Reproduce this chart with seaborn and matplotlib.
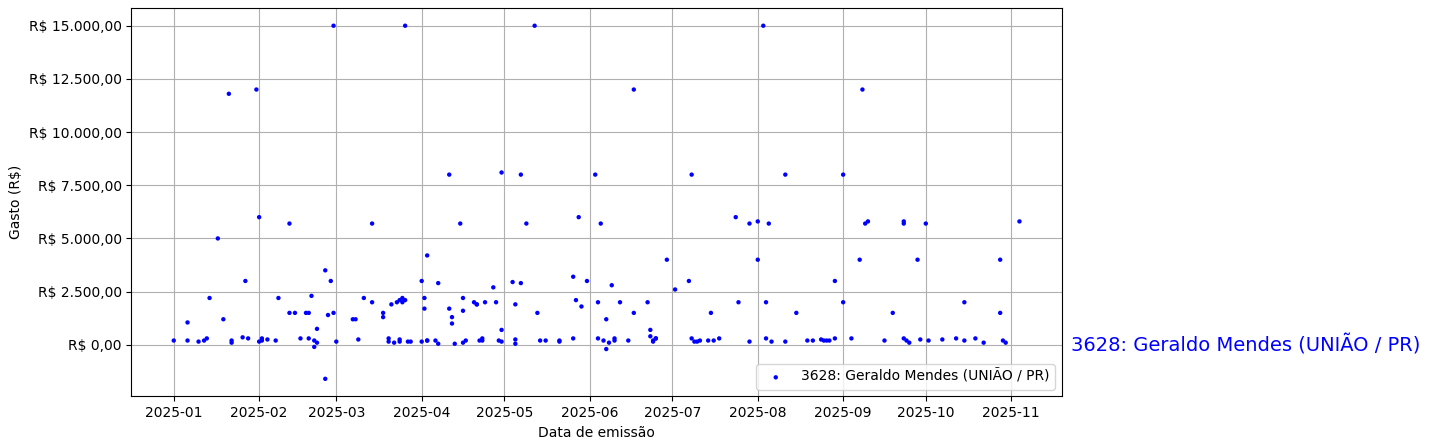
import pandas as pd
import matplotlib.pyplot as plt
from matplotlib.ticker import FuncFormatter
import seaborn as sns

label = '3628: Geraldo Mendes (UNIÃO / PR)'

# days since 2025-01-01
days = [0, 5, 5, 9, 11, 12, 13, 16, 18, 20, 21, 21, 25, 26, 27, 30, 31, 31, 32, 32, 34, 37, 38, 42, 42,
        44, 46, 48, 49, 49, 50, 51, 51, 52, 52, 55, 55, 56, 57, 58, 58, 59,
        65, 66, 67, 69, 72, 72, 76, 76, 78, 78, 79, 80, 81, 82, 82, 82, 83, 83, 84, 84, 85, 86,
        90, 90, 91, 91, 92, 92, 92, 95, 96, 96, 100, 100, 101, 101, 102, 104, 105, 105, 105, 106,
        109, 110, 110, 111, 112, 112, 113, 116, 117, 118, 119, 119, 119,
        123, 124, 124, 124, 126, 126, 128, 131, 132, 133, 135, 140, 140, 145, 145, 146, 147, 148, 150,
        153, 154, 154, 155, 156, 157, 157, 158, 159, 160, 160, 162, 165, 167, 167, 172, 173, 173, 174,
        174, 175, 175,
        179, 182, 187, 188, 188, 189, 190, 191, 194, 195, 196, 198, 204, 205, 209, 209, 212, 212,
        214, 215, 215, 216, 217, 222, 222, 226, 230, 232, 235, 236, 237, 238, 240, 240, 243, 243,
        246, 249, 250, 251, 252,
        258, 261, 265, 265, 265, 266, 267, 270, 271, 273, 274,
        279, 284, 287, 287, 291, 294, 300, 300, 301, 302, 307]
values = [200, 1050, 200, 150, 200, 300, 2200, 5000, 1200, 11800, 100, 200, 350, 3000, 300, 12000, 6000,
          150, 300, 200, 250, 200, 2200, 5700, 1500, 1500, 300, 1500, 300, 1500, 2300, -100, 200, 750,
          100, -1600, 3500, 1400, 3000, 15000, 1500, 150,
          1200, 1200, 250, 2200, 2000, 5700, 1500, 1300, 300, 150, 1900, 100, 2000, 250, 150, 2100,
          2000, 2200, 15000, 2100, 150, 150,
          3000, 150, 1700, 2200, 4200, 200, 200, 200, 2900, 50, 8000, 1700, 1000, 1300, 50, 5700, 1600,
          2200, 100, 200, 2000, 1900, 1900, 200, 300, 200, 2000, 2700, 2000, 200, 8100, 700, 150,
          2950, 1900, 250, 50, 2900, 8000, 5700, 15000, 1500, 200, 200, 200, 150, 3200, 300, 2100,
          6000, 1800, 3000,
          8000, 2000, 300, 5700, 200, 1200, -200, 100, 2800, 200, 300, 2000, 200, 12000, 1500, 2000,
          700, 400, 150, 200, 300, 300,
          4000, 2600, 3000, 8000, 300, 150, 150, 200, 200, 1500, 200, 300, 6000, 2000, 150, 5700, 5800,
          4000,
          15000, 2000, 300, 5700, 150, 8000, 150, 1500, 200, 200, 250, 200, 200, 200, 3000, 300, 8000,
          2000, 300, 4000, 12000, 5700, 5800,
          200, 1500, 5700, 5800, 300, 200, 100, 4000, 250, 5700, 200,
          250, 300, 2000, 200, 300, 100, 4000, 1500, 200, 100, 5800]

df = pd.DataFrame({
    'data': pd.Timestamp('2025-01-01') + pd.to_timedelta(days, unit='D'),
    'gasto': values,
})


def brl(v, pos):
    s = f'{v:,.2f}'.replace(',', 'X').replace('.', ',').replace('X', '.')
    return f'R$ {s}'


fig, ax = plt.subplots(figsize=(14.29, 4.48), dpi=100)
fig.subplots_adjust(left=0.092, right=0.743, top=0.982, bottom=0.115)
sns.scatterplot(df, x='data', y='gasto', color='blue', s=10, edgecolor='none',
                label=label, ax=ax)
ax.set_yticks([0, 2500, 5000, 7500, 10000, 12500, 15000])
ax.yaxis.set_major_formatter(FuncFormatter(brl))
ax.set(xlabel='Data de emissão', ylabel='Gasto (R$)')
ax.grid(True)
ax.set_axisbelow(True)
ax.legend(loc='lower right')
ax.text(1.01, 0, label, transform=ax.get_yaxis_transform(), color='blue',
        fontsize=14, va='center', ha='left')
fig.savefig('out.png')
